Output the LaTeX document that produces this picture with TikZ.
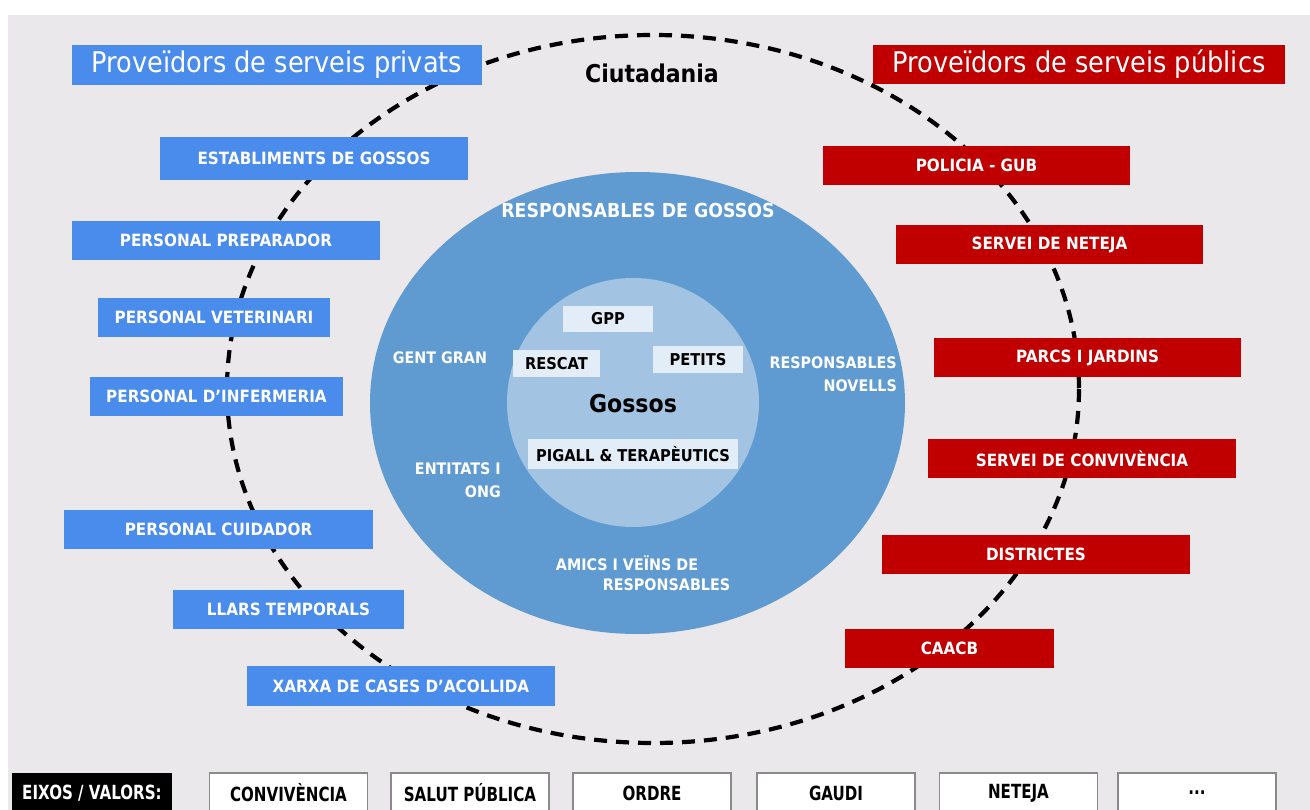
\documentclass[tikz,border=0pt]{standalone}
\usepackage{fontspec}
\setmainfont{DejaVu Sans}[FakeStretch=0.9]
\usetikzlibrary{positioning}
\definecolor{bgcol}{HTML}{EAE8EB}
\definecolor{privblue}{HTML}{4A8CEC}
\definecolor{pubred}{HTML}{C00000}
\definecolor{outerblue}{HTML}{5F9BD0}
\definecolor{innerblue}{HTML}{A2C4E2}
\definecolor{palebox}{HTML}{E3EDF7}
\definecolor{axisborder}{HTML}{8A8A8A}
\newcommand{\axtext}[1]{\scalebox{0.86}[1]{#1}}
\tikzset{
  boxbase/.style={rectangle, inner sep=0pt, minimum height=39pt, text=white,
    font=\bfseries\fontsize{16.9}{18}\selectfont},
  privbox/.style={boxbase, fill=privblue},
  pubbox/.style={boxbase, fill=pubred},
  headbox/.style={rectangle, inner sep=0pt, minimum height=40pt, text=white,
    font=\fontsize{28.5}{30}\selectfont},
  wlabel/.style={text=white, inner sep=0pt, font=\bfseries\fontsize{15.9}{23}\selectfont},
  wtitle/.style={text=white, inner sep=0pt, font=\bfseries\fontsize{19.3}{23}\selectfont},
  dogbox/.style={rectangle, fill=palebox, inner sep=0pt, text=black,
    font=\bfseries\fontsize{16.3}{18}\selectfont},
  bigtitle/.style={text=black, inner sep=0pt, font=\bfseries\fontsize{24.5}{28}\selectfont},
  axisbox/.style={rectangle, draw=axisborder, line width=1.3pt, fill=white, inner sep=0pt,
    minimum height=40pt, minimum width=158pt, text=black,
    font=\bfseries\fontsize{19.5}{20}\selectfont},
  axishead/.style={rectangle, fill=black, inner sep=0pt, minimum height=40pt,
    minimum width=160pt, text=white, font=\bfseries\fontsize{19.5}{20}\selectfont},
  citizenring/.style={draw=black, line width=4.2pt, dash pattern=on 13pt off 9pt}
}
\begin{document}
\begin{tikzpicture}[x=1pt,y=-1pt]
\useasboundingbox (0,0) rectangle (1310,810);
\fill[white] (0,0) rectangle (1310,810);
\fill[bgcol] (8,15) rectangle (1310,810);

% citizen dashed ring
\draw[citizenring] (653,389) ellipse [x radius=426, y radius=354];

% blue rings
\fill[outerblue] (637.5,403) ellipse [x radius=267.5, y radius=231];
\fill[innerblue] (633,402.5) ellipse [x radius=126, y radius=124.5];

\node[bigtitle] (ciut) at (652,73) {Ciutadania};

\node[wtitle] (resp) at (638,210) {RESPONSABLES DE GOSSOS};
\node[wlabel] (gent) at (440,358) {GENT GRAN};
\node[wlabel, align=right, anchor=east] (novells) at (897,374.5) {RESPONSABLES\\NOVELLS};
\node[wlabel, align=right, anchor=east] (entitats) at (501,480.5) {ENTITATS I\\ONG};
\node[wlabel] (amics1) at (627,563) {AMICS I VEÏNS DE};
\node[wlabel] (amics2) at (666.5,585) {RESPONSABLES};

\node[dogbox, minimum width=90pt, minimum height=26pt] (gpp) at (608,319) {GPP};
\node[dogbox, minimum width=87pt, minimum height=27pt] (rescat) at (556.5,363.5) {RESCAT};
\node[dogbox, minimum width=90pt, minimum height=27pt] (petits) at (698,359.5) {PETITS};
\node[dogbox, minimum width=210pt, minimum height=30pt] (pigall) at (633,454) {PIGALL \& TERAPÈUTICS};
\node[bigtitle] (gossos) at (633,404) {Gossos};

% private providers
\node[headbox, fill=privblue, minimum width=410pt] (priv) at (277,65) {Proveïdors de serveis privats};
\node[privbox, minimum width=308pt, minimum height=43pt] (est) at (314,158.5) {ESTABLIMENTS DE GOSSOS};
\node[privbox, minimum width=308pt] (prep) at (226,240.5) {PERSONAL PREPARADOR};
\node[privbox, minimum width=232pt] (vet) at (214,317.5) {PERSONAL VETERINARI};
\node[privbox, minimum width=253pt] (inf) at (216.5,396.5) {PERSONAL D’INFERMERIA};
\node[privbox, minimum width=309pt] (cuid) at (218.5,529.5) {PERSONAL CUIDADOR};
\node[privbox, minimum width=231pt] (llars) at (288.5,609.5) {LLARS TEMPORALS};
\node[privbox, minimum width=308pt, minimum height=40pt] (xarxa) at (401,686) {XARXA DE CASES D’ACOLLIDA};

% public providers
\node[headbox, fill=pubred, minimum width=412pt, minimum height=39pt] (pub) at (1079,64.5) {Proveïdors de serveis públics};
\node[pubbox, minimum width=307pt] (pol) at (976.5,165.5) {POLICIA - GUB};
\node[pubbox, minimum width=307pt] (net) at (1049.5,244.5) {SERVEI DE NETEJA};
\node[pubbox, minimum width=307pt] (parcs) at (1087.5,357.5) {PARCS I JARDINS};
\node[pubbox, minimum width=308pt] (conv) at (1082,458.5) {SERVEI DE CONVIVÈNCIA};
\node[pubbox, minimum width=308pt] (dist) at (1036,554.5) {DISTRICTES};
\node[pubbox, minimum width=209pt] (caacb) at (949.5,648.5) {CAACB};

% axes / values
\node[axishead] (eixos) at (92,793) {\axtext{EIXOS / VALORS:}};
\node[axisbox] (a1) at (288.5,793) {\axtext{CONVIVÈNCIA}};
\node[axisbox] (a2) at (470,793) {\axtext{SALUT PÚBLICA}};
\node[axisbox] (a3) at (652,793) {\axtext{ORDRE}};
\node[axisbox] (a4) at (836,793) {\axtext{GAUDI}};
\node[axisbox] (a5) at (1018.5,793) {\axtext{NETEJA}};
\node[axisbox] (a6) at (1197,793) {\axtext{...}};
\end{tikzpicture}
\end{document}
